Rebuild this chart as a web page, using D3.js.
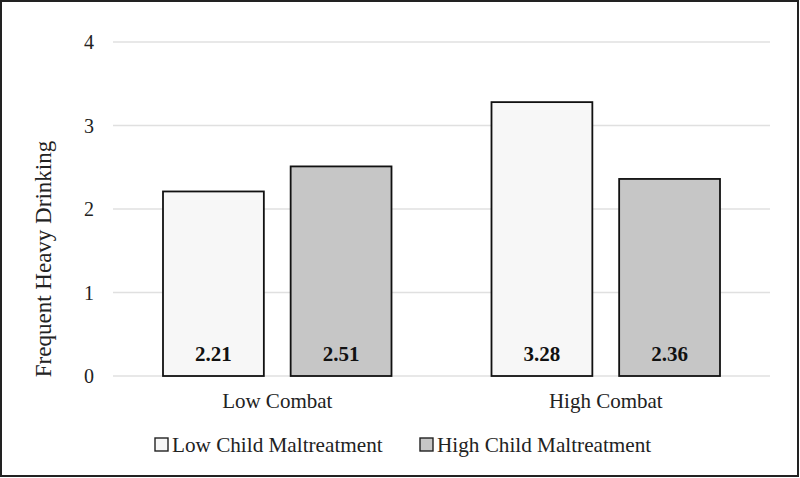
<!DOCTYPE html>
<html><head><meta charset="utf-8">
<script src="https://cdn.jsdelivr.net/npm/d3@7"></script>
<style>body{margin:0;background:#fff}svg{display:block}text{font-family:"Liberation Serif","Times New Roman",serif;}</style>
</head><body>
<svg id="c" width="800" height="478"></svg>
<script>
const categories = ["Low Combat", "High Combat"];
const seriesNames = ["Low Child Maltreatment", "High Child Maltreatment"];
const lowValues = [2.21, 3.28];
const highValues = [2.51, 2.36];
const yTicks = [0, 1, 2, 3, 4];
const colors = ["#f7f7f7", "#c6c6c6"];

const svg = d3.select("#c");
svg.append("rect").attr("x",1).attr("y",1).attr("width",797).attr("height",475)
  .attr("fill","#fff").attr("stroke","#222").attr("stroke-width",2);

const plotLeft = 113, plotRight = 770, plotTop = 42, plotBottom = 376;
const y = d3.scaleLinear().domain([0,4]).range([plotBottom, plotTop]);
const x0 = d3.scaleBand().domain(categories).range([plotLeft, plotRight]).paddingInner(0).paddingOuter(0);
const x1 = d3.scaleBand().domain(seriesNames).range([50, x0.bandwidth()-50]).paddingInner(0.21);

// gridlines
svg.append("g").selectAll("line").data(yTicks).join("line")
  .attr("x1", plotLeft).attr("x2", plotRight)
  .attr("y1", d=>y(d)).attr("y2", d=>y(d))
  .attr("stroke", "#e0e0e0").attr("stroke-width", 1.5);

// y tick labels
svg.append("g").selectAll("text").data(yTicks).join("text")
  .attr("x", 94).attr("y", d=>y(d)).attr("dy","0.35em")
  .attr("text-anchor","end").attr("font-size",20).attr("fill","#222")
  .text(d=>d);

const rows = categories.map((c,i)=>({cat:c, vals:[lowValues[i], highValues[i]]}));
const g = svg.append("g").selectAll("g").data(rows).join("g")
  .attr("transform", d=>`translate(${x0(d.cat)},0)`);
g.selectAll("rect").data(d=>d.vals.map((v,j)=>({s:seriesNames[j], v, j}))).join("rect")
  .attr("x", d=>x1(d.s)).attr("width", x1.bandwidth())
  .attr("y", d=>y(d.v)).attr("height", d=>plotBottom - y(d.v))
  .attr("fill", d=>colors[d.j]).attr("stroke","#111").attr("stroke-width",1.8);
g.selectAll("text.v").data(d=>d.vals.map((v,j)=>({s:seriesNames[j], v, j}))).join("text")
  .attr("class","v")
  .attr("x", d=>x1(d.s)+x1.bandwidth()/2).attr("y", 361)
  .attr("text-anchor","middle").attr("font-size",21).attr("font-weight","bold").attr("fill","#111")
  .text(d=>d.v.toFixed(2));

// category labels
svg.append("g").selectAll("text").data(categories).join("text")
  .attr("x", d=>x0(d)+x0.bandwidth()/2).attr("y", 408)
  .attr("text-anchor","middle").attr("font-size",21).attr("fill","#222")
  .text(d=>d);

// y axis title
svg.append("text").attr("transform","translate(51,259) rotate(-90)")
  .attr("text-anchor","middle").attr("font-size",23).attr("fill","#222")
  .text("Frequent Heavy Drinking");

// legend
const legX = [155, 420];
const lg = svg.append("g").selectAll("g").data(seriesNames).join("g")
  .attr("transform",(d,i)=>`translate(${legX[i]},438)`);
lg.append("rect").attr("width",13).attr("height",13)
  .attr("fill",(d,i)=>colors[i]).attr("stroke","#222").attr("stroke-width",1.4);
lg.append("text").attr("x",17).attr("y",14).attr("font-size",21.2).attr("fill","#222").text(d=>d);
</script>
</body></html>
